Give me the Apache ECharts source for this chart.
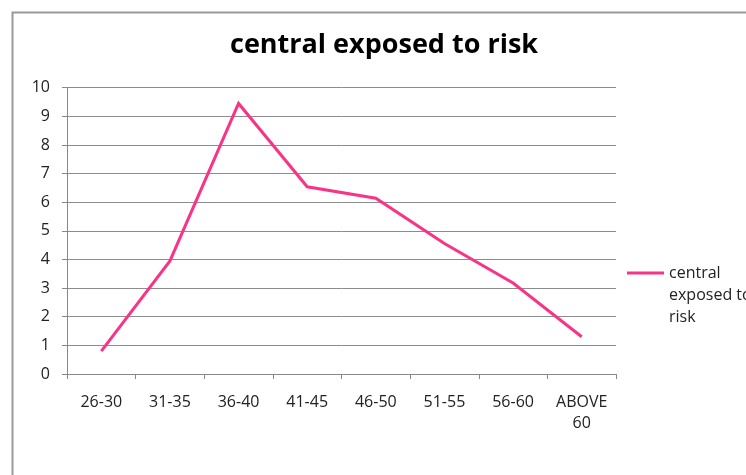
<!DOCTYPE html>
<html>
<head>
<meta charset="utf-8">
<script src="https://cdn.jsdelivr.net/npm/echarts@6/dist/echarts.min.js"></script>
<style>html,body{margin:0;padding:0;background:#fff}#c{width:746px;height:475px}</style>
</head>
<body>
<div id="c"></div>
<script>
const titleText = 'central exposed to risk';
const seriesName = 'central exposed to risk';
const legendLines = ['central', 'exposed to', 'risk'];
const categories = ['26-30', '31-35', '36-40', '41-45', '46-50', '51-55', '56-60', 'ABOVE\n60'];
const values = [0.8, 3.95, 9.45, 6.54, 6.14, 4.56, 3.18, 1.3];
const yMin = 0, yMax = 10, yInterval = 1;

const chart = echarts.init(document.getElementById('c'), null, {renderer: 'canvas'});
const font = '"Open Sans", Lato, sans-serif';
chart.setOption({
  animation: false,
  backgroundColor: '#fff',
  graphic: [{
    type: 'rect', left: 10, top: 10, shape: {x: 0, y: 0, width: 800, height: 500},
    style: {fill: 'none', stroke: '#9a9a9a', lineWidth: 2}, silent: true
  }],
  title: {
    text: titleText, left: 230, top: 32, padding: 0,
    textStyle: {fontFamily: font, fontSize: 27, fontWeight: 'bold', color: '#000'}
  },
  legend: {
    left: 627, top: 218, padding: 0,
    icon: 'rect', itemWidth: 37, itemHeight: 3,
    formatter: function () { return ' \n \n' + legendLines.join('\n'); },
    textStyle: {fontFamily: font, fontSize: 16, color: '#222', lineHeight: 22},
    data: [seriesName]
  },
  grid: {left: 67, right: 130, top: 87.7, bottom: 101, containLabel: false},
  xAxis: {
    type: 'category', data: categories, boundaryGap: true,
    axisLine: {lineStyle: {color: '#888', width: 1}},
    axisTick: {show: true, length: 5, lineStyle: {color: '#888'}},
    axisLabel: {fontFamily: font, fontSize: 16, color: '#222', margin: 18, lineHeight: 21, interval: 0}
  },
  yAxis: {
    type: 'value', min: yMin, max: yMax, interval: yInterval,
    axisLine: {show: true, lineStyle: {color: '#888', width: 1}},
    axisTick: {show: true, length: 5, lineStyle: {color: '#888'}},
    splitLine: {lineStyle: {color: '#8c8c8c', width: 1}},
    axisLabel: {fontFamily: font, fontSize: 16, color: '#222', margin: 17}
  },
  series: [{
    name: seriesName, type: 'line', data: values,
    symbol: 'none', color: '#F93487',
    lineStyle: {width: 3, color: '#F93487', join: 'miter'}
  }]
});
</script>
</body>
</html>
